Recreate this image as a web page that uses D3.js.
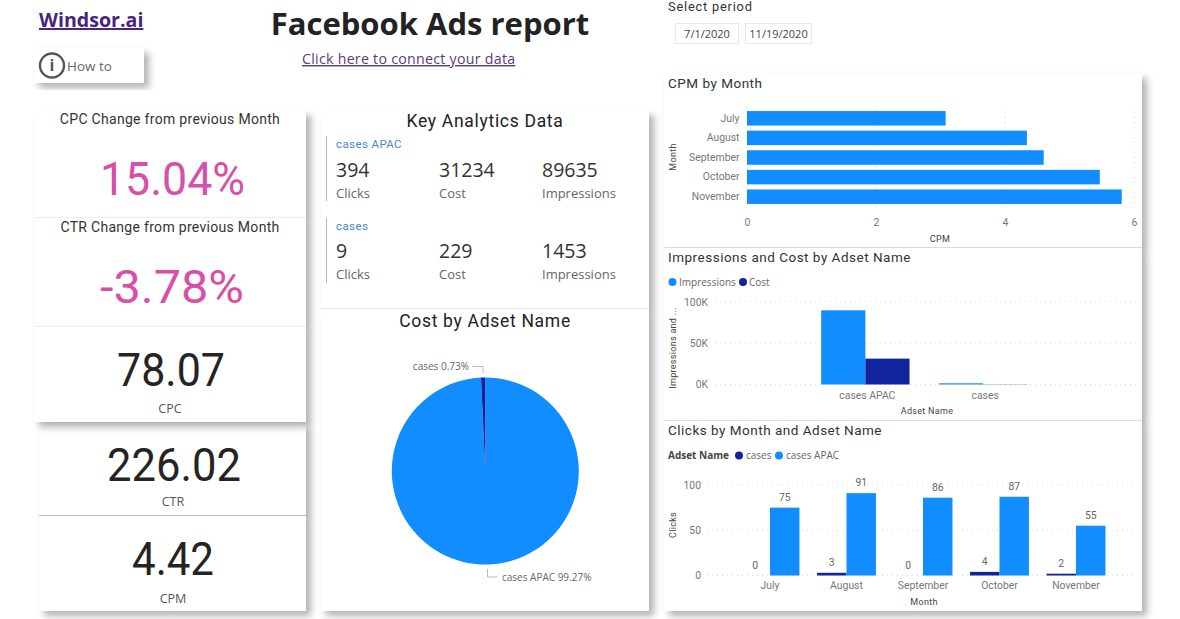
<!DOCTYPE html>
<html>
<head>
<meta charset="utf-8">
<script src="https://cdn.jsdelivr.net/npm/d3@7"></script>
<style>
  body { margin: 0; background: #fff; overflow: hidden; }
  svg { display: block; }
  text { font-family: "Open Sans", sans-serif; }
  .din { font-family: Roboto, sans-serif; }
  .axis text { font-family: Roboto, sans-serif; font-size: 10.4px; fill: #777; }
  .axis path, .axis line { display: none; }
  .grid line { stroke: #d8d8d8; stroke-dasharray: 1 4; }
</style>
</head>
<body>
<div id="chart"></div>
<script>
// values
const months = ["July", "August", "September", "October", "November"];
const cpmByMonth = [3.08, 4.34, 4.60, 5.47, 5.81];
const cpmTicks = [0, 2, 4, 6];

const adsets = ["cases APAC", "cases"];
const impressions = [89635, 1453];
const cost = [31234, 229];
const clicks = [394, 9];
const costShare = [99.27, 0.73];
const impressionTicks = [0, 50000, 100000];

const clicksCases = [0, 3, 0, 4, 2];
const clicksApac = [75, 91, 86, 87, 55];
const clickTicks = [0, 50, 100];

const blue = "#118dff", navy = "#12239e", pink = "#d64fa9";

const svg = d3.select("#chart").append("svg")
  .attr("width", 1180)
  .attr("height", 619);

const shadow = svg.append("defs").append("filter")
  .attr("id", "shadow")
  .attr("x", "-10%").attr("y", "-10%")
  .attr("width", "125%").attr("height", "130%");
shadow.append("feDropShadow")
  .attr("dx", 5).attr("dy", 5)
  .attr("stdDeviation", 3.5)
  .attr("flood-color", "#000")
  .attr("flood-opacity", 0.3);

function card(x, y, w, h) {
  svg.append("rect")
    .attr("x", x).attr("y", y)
    .attr("width", w).attr("height", h)
    .attr("fill", "#fff")
    .attr("filter", "url(#shadow)");
}

function rule(x1, x2, y, color) {
  svg.append("line")
    .attr("x1", x1).attr("x2", x2)
    .attr("y1", y).attr("y2", y)
    .attr("stroke", color);
}

function label(str, x, y, size, color, opts) {
  opts = opts || {};
  const t = svg.append("text")
    .attr("x", x).attr("y", y)
    .attr("font-size", size)
    .attr("fill", color)
    .attr("text-anchor", opts.anchor || "start")
    .text(str);
  if (opts.din) t.attr("class", "din");
  if (opts.weight) t.attr("font-weight", opts.weight);
  if (opts.spacing) t.attr("letter-spacing", opts.spacing);
  if (opts.underline) t.attr("text-decoration", "underline");
  if (opts.rotate) t.attr("transform", `rotate(-90 ${x} ${y})`);
  // the big numbers are narrower than Roboto, squeeze them to the read width
  if (opts.fit) t.attr("textLength", opts.fit).attr("lengthAdjust", "spacingAndGlyphs");
  return t;
}

// cards, CTR goes before CPC so the CPC shadow falls on it
card(34, 48, 110, 35);
card(34, 110, 272, 108);
card(34, 218, 272, 109);
card(39, 423, 267, 93);
card(34, 327, 272, 95);
card(39, 516, 267, 95);
card(321, 110, 328, 199);
card(321, 309, 328, 302);
card(664, 73, 478, 175);
card(664, 248, 478, 173);
card(664, 421, 478, 190);
rule(34, 306, 217.5, "#eeeeee");
rule(34, 306, 326.5, "#eeeeee");
rule(39, 306, 515.5, "#bbbbbb");
rule(321, 649, 308.5, "#e8e8e8");
rule(664, 1142, 247.5, "#dddddd");
rule(664, 1142, 420.5, "#dddddd");

// header
label("Windsor.ai", 39, 27, 19.6, "#4a1f86", {weight: 700, underline: true});
label("Facebook Ads report", 430, 35, 31, "#222", {weight: 700, anchor: "middle"});
label("Click here to connect your data", 302, 64, 14.2, "#5b3a7c", {underline: true, spacing: 0.27});

// how to button
svg.append("circle")
  .attr("cx", 52).attr("cy", 65.5).attr("r", 12)
  .attr("fill", "none").attr("stroke", "#555").attr("stroke-width", 2.4);
label("i", 52, 71, 16, "#555", {weight: 700, anchor: "middle"});
label("How to", 67, 71, 13.5, "#666");

// date slicer
label("Select period", 668, 11, 12.8, "#333", {din: true, spacing: 0.8});
[["7/1/2020", 675, 63], ["11/19/2020", 745, 66]].forEach(d => {
  svg.append("rect")
    .attr("x", d[1] + 0.5).attr("y", 23.5)
    .attr("width", d[2]).attr("height", 20)
    .attr("fill", "#fff").attr("stroke", "#e8e8e8");
  label(d[0], d[1] + d[2] / 2 + 0.5, 38, 11, "#444", {anchor: "middle"});
});

// KPI cards
label("CPC Change from previous Month", 170, 124, 14, "#333", {din: true, anchor: "middle", spacing: 0.3});
label("15.04%", 172.5, 195, 46, pink, {din: true, anchor: "middle", fit: 145});
label("CTR Change from previous Month", 170, 232, 14, "#333", {din: true, anchor: "middle", spacing: 0.3});
label("-3.78%", 172, 303, 46, pink, {din: true, anchor: "middle", fit: 144});
label("78.07", 171, 386, 46, "#252423", {din: true, anchor: "middle", fit: 108});
label("CPC", 170, 413, 12.5, "#555", {anchor: "middle"});
label("226.02", 174, 481, 46, "#252423", {din: true, anchor: "middle", fit: 134});
label("CTR", 173, 506, 12.5, "#555", {anchor: "middle"});
label("4.42", 173, 575, 46, "#252423", {din: true, anchor: "middle", fit: 82});
label("CPM", 173, 603, 12.5, "#555", {anchor: "middle"});

// key analytics, one block per adset
label("Key Analytics Data", 485, 127, 17.5, "#222", {din: true, anchor: "middle", spacing: 0.7});
const kpiCols = [336, 439, 542];
adsets.forEach((name, i) => {
  const top = [136, 218][i];
  svg.append("line")
    .attr("x1", 326.5).attr("x2", 326.5)
    .attr("y1", top).attr("y2", top + 65)
    .attr("stroke", "#bbb");
  label(name, 336, top + 12, 11.5, "#4a86c8", {din: true, spacing: 0.4});
  [clicks[i], cost[i], impressions[i]].forEach((v, j) => {
    label(v, kpiCols[j], top + 41 - i, 19.5, "#333");
  });
  ["Clicks", "Cost", "Impressions"].forEach((s, j) => {
    label(s, kpiCols[j], top + 62 - i, 13, "#666");
  });
});

// pie
label("Cost by Adset Name", 485, 327, 17.5, "#222", {din: true, anchor: "middle", spacing: 0.7});
const pieData = d3.pie().sort(null)(costShare);
const pieG = svg.append("g").attr("transform", "translate(485.3,471)");
const arc = d3.arc().innerRadius(0).outerRadius(93.5);
pieG.selectAll("path")
  .data(pieData)
  .join("path")
  .attr("d", arc)
  .attr("fill", (d, i) => i == 0 ? blue : navy);

// leader lines start just outside the middle of each slice
const edge = d3.arc().innerRadius(98).outerRadius(98);
const apacEdge = edge.centroid(pieData[0]);
const casesEdge = edge.centroid(pieData[1]);
const leader = d3.line();
pieG.append("path")
  .attr("d", leader([casesEdge, [casesEdge[0], -104.5], [casesEdge[0] - 11, -104.5]]))
  .attr("fill", "none").attr("stroke", "#bbb");
pieG.append("path")
  .attr("d", leader([apacEdge, [apacEdge[0], 106], [apacEdge[0] + 10, 106]]))
  .attr("fill", "none").attr("stroke", "#bbb");
label(`${adsets[1]} ${costShare[1]}%`, 469, 370, 10, "#666", {anchor: "end"});
label(`${adsets[0]} ${costShare[0]}%`, 502, 581, 10, "#666");

// CPM by month
label("CPM by Month", 668, 88, 13.5, "#333", {din: true, spacing: 0.5});
const cpmX = d3.scaleLinear().domain([0, 6]).range([747, 1134]);
const cpmY = d3.scaleBand().domain(months).range([108.5, 206.5]).paddingInner(0.26).paddingOuter(0.13);
svg.append("g").attr("class", "grid")
  .selectAll("line").data(cpmTicks).join("line")
  .attr("x1", d => cpmX(d)).attr("x2", d => cpmX(d))
  .attr("y1", 107).attr("y2", 208);
svg.append("g")
  .selectAll("rect").data(months).join("rect")
  .attr("x", cpmX(0))
  .attr("y", d => cpmY(d))
  .attr("width", (d, i) => cpmX(cpmByMonth[i]) - cpmX(0))
  .attr("height", cpmY.bandwidth())
  .attr("fill", blue);
svg.append("g").attr("class", "axis")
  .attr("transform", "translate(0,216)")
  .call(d3.axisBottom(cpmX).tickValues(cpmTicks).tickSize(0).tickPadding(3).tickFormat(d3.format("d")));
svg.append("g").attr("class", "axis")
  .attr("transform", "translate(739.5,0)")
  .call(d3.axisLeft(cpmY).tickSize(0).tickPadding(0));
label("CPM", 940, 242, 9, "#444", {anchor: "middle", din: true, spacing: 0.3});
label("Month", 676, 157, 9, "#444", {anchor: "middle", rotate: true, din: true, spacing: 0.3});

// impressions and cost
label("Impressions and Cost by Adset Name", 668, 262, 13.5, "#333", {din: true, spacing: 0.5});
svg.append("circle").attr("cx", 672.5).attr("cy", 282).attr("r", 4).attr("fill", blue);
label("Impressions", 679, 286, 10, "#666");
svg.append("circle").attr("cx", 743).attr("cy", 282).attr("r", 4).attr("fill", navy);
label("Cost", 749, 286, 10, "#666");

const impY = d3.scaleLinear().domain([0, 100000]).range([384.5, 301.7]);
const impX = d3.scaleBand().domain(adsets).range([806.5, 1042]).paddingInner(0.25).paddingOuter(0.125);
const impSub = d3.scaleBand().domain(["Impressions", "Cost"]).range([0, impX.bandwidth()]);
svg.append("g").attr("class", "grid")
  .selectAll("line").data(impressionTicks).join("line")
  .attr("x1", 715).attr("x2", 1136)
  .attr("y1", d => impY(d)).attr("y2", d => impY(d));
[["Impressions", impressions, blue], ["Cost", cost, navy]].forEach(s => {
  svg.append("g")
    .selectAll("rect").data(adsets).join("rect")
    .attr("x", d => impX(d) + impSub(s[0]))
    .attr("y", (d, i) => impY(s[1][i]))
    .attr("width", impSub.bandwidth())
    .attr("height", (d, i) => impY(0) - impY(s[1][i]))
    .attr("fill", s[2]);
});
svg.append("g").attr("class", "axis")
  .attr("transform", "translate(708,0)")
  .call(d3.axisLeft(impY).tickValues(impressionTicks).tickSize(0).tickPadding(0).tickFormat(d => d / 1000 + "K"));
svg.append("g").attr("class", "axis")
  .attr("transform", "translate(2,389)")
  .call(d3.axisBottom(impX).tickSize(0).tickPadding(3));
label("Adset Name", 927, 414, 9, "#444", {anchor: "middle", din: true, spacing: 0.3});
label("Impressions and ...", 676, 348, 9, "#444", {anchor: "middle", rotate: true, din: true, spacing: 0.3});

// clicks by month
label("Clicks by Month and Adset Name", 668, 435, 13.5, "#333", {din: true, spacing: 0.5});
label("Adset Name", 668, 459, 10, "#444", {weight: 700});
svg.append("circle").attr("cx", 739).attr("cy", 455.5).attr("r", 4).attr("fill", navy);
label("cases", 746, 459, 10, "#666");
svg.append("circle").attr("cx", 779).attr("cy", 455.5).attr("r", 4).attr("fill", blue);
label("cases APAC", 786, 459, 10, "#666");

const clickY = d3.scaleLinear().domain([0, 100]).range([575.5, 485]);
const clickX = d3.scaleBand().domain(months).range([731.75, 1114.25]).paddingInner(0.23).paddingOuter(0.115);
const clickSub = d3.scaleBand().domain(["cases", "cases APAC"]).range([0, clickX.bandwidth()]);
svg.append("g").attr("class", "grid")
  .selectAll("line").data(clickTicks).join("line")
  .attr("x1", 707).attr("x2", 1136)
  .attr("y1", d => clickY(d)).attr("y2", d => clickY(d));
[["cases", clicksCases, navy], ["cases APAC", clicksApac, blue]].forEach(s => {
  const g = svg.append("g");
  g.selectAll("rect").data(months).join("rect")
    .attr("x", d => clickX(d) + clickSub(s[0]))
    .attr("y", (d, i) => clickY(s[1][i]))
    .attr("width", clickSub.bandwidth())
    .attr("height", (d, i) => clickY(0) - clickY(s[1][i]))
    .attr("fill", s[2]);
  g.selectAll("text").data(months).join("text")
    .attr("class", "din")
    .attr("x", d => clickX(d) + clickSub(s[0]) + clickSub.bandwidth() / 2)
    .attr("y", (d, i) => clickY(s[1][i]) - 7)
    .attr("text-anchor", "middle")
    .attr("font-size", 10.4)
    .attr("fill", "#666")
    .text((d, i) => s[1][i]);
});
svg.append("g").attr("class", "axis")
  .attr("transform", "translate(701,0)")
  .call(d3.axisLeft(clickY).tickValues(clickTicks).tickSize(0).tickPadding(0));
svg.append("g").attr("class", "axis")
  .attr("transform", "translate(0,579)")
  .call(d3.axisBottom(clickX).tickSize(0).tickPadding(3));
label("Month", 924, 605, 9, "#444", {anchor: "middle", din: true, spacing: 0.3});
label("Clicks", 676, 525, 9, "#444", {anchor: "middle", rotate: true, din: true, spacing: 0.3});
</script>
</body>
</html>
